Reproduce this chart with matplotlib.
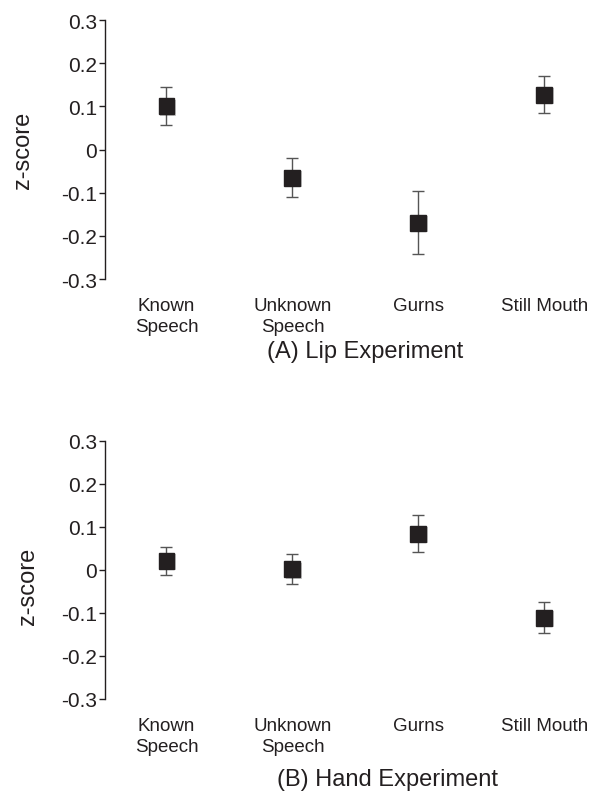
import numpy as np
import matplotlib.pyplot as plt
import matplotlib.patheffects as pe

plt.rcParams['font.family'] = ['Liberation Sans', 'DejaVu Sans']

categories = ["Known\nSpeech", "Unknown\nSpeech", "Gurns", "Still Mouth"]
lip_means = [0.100, -0.065, -0.169, 0.127]
lip_err = [0.044, 0.045, 0.073, 0.043]
hand_means = [0.021, 0.002, 0.084, -0.111]
hand_err = [0.032, 0.035, 0.043, 0.036]
yticks = [-0.3, -0.2, -0.1, 0, 0.1, 0.2, 0.3]
ytick_labels = ["-0.3", "-0.2", "-0.1", "0", "0.1", "0.2", "0.3"]

ink = '#231f20'

fig = plt.figure(figsize=(5.92, 8.12), dpi=100)
ax_a = fig.add_axes([0.177, 0.655, 0.819, 0.319])
ax_b = fig.add_axes([0.177, 0.138, 0.819, 0.318])


def draw_panel(ax, means, errs):
    x = np.arange(len(categories))
    ax.errorbar(x, means, yerr=errs, fmt='none', ecolor='#555555',
                elinewidth=1.0, capsize=4, capthick=1.0, zorder=2)
    ax.plot(x, means, 's', color=ink, markersize=11.5, zorder=3,
            path_effects=[pe.SimplePatchShadow(offset=(1, -1.2), alpha=0.22),
                          pe.Normal()])
    ax.set_xlim(-0.49, 3.36)
    ax.set_ylim(-0.3, 0.3)
    ax.set_yticks(yticks)
    ax.set_yticklabels(ytick_labels)
    ax.set_xticks(x)
    ax.set_xticklabels(categories, fontsize=13.5, color=ink, linespacing=1.3)
    for s in ['top', 'right', 'bottom']:
        ax.spines[s].set_visible(False)
    ax.spines['left'].set_color(ink)
    ax.spines['left'].set_linewidth(1.0)
    ax.tick_params(axis='y', length=4, width=1.0, pad=1.5, labelsize=15,
                   colors=ink)
    ax.tick_params(axis='x', length=0, pad=13)
    ax.set_ylabel("z-score", fontsize=17, color=ink)


draw_panel(ax_a, lip_means, lip_err)
draw_panel(ax_b, hand_means, hand_err)
ax_a.yaxis.set_label_coords(-0.145, 0.5)
ax_b.yaxis.set_label_coords(-0.135, 0.44)

fig.text(0.617, 0.5665, "(A) Lip Experiment", fontsize=17, color=ink,
         ha='center', va='center')
fig.text(0.654, 0.0394, "(B) Hand Experiment", fontsize=17, color=ink,
         ha='center', va='center')

fig.savefig("out.png", dpi=100)
